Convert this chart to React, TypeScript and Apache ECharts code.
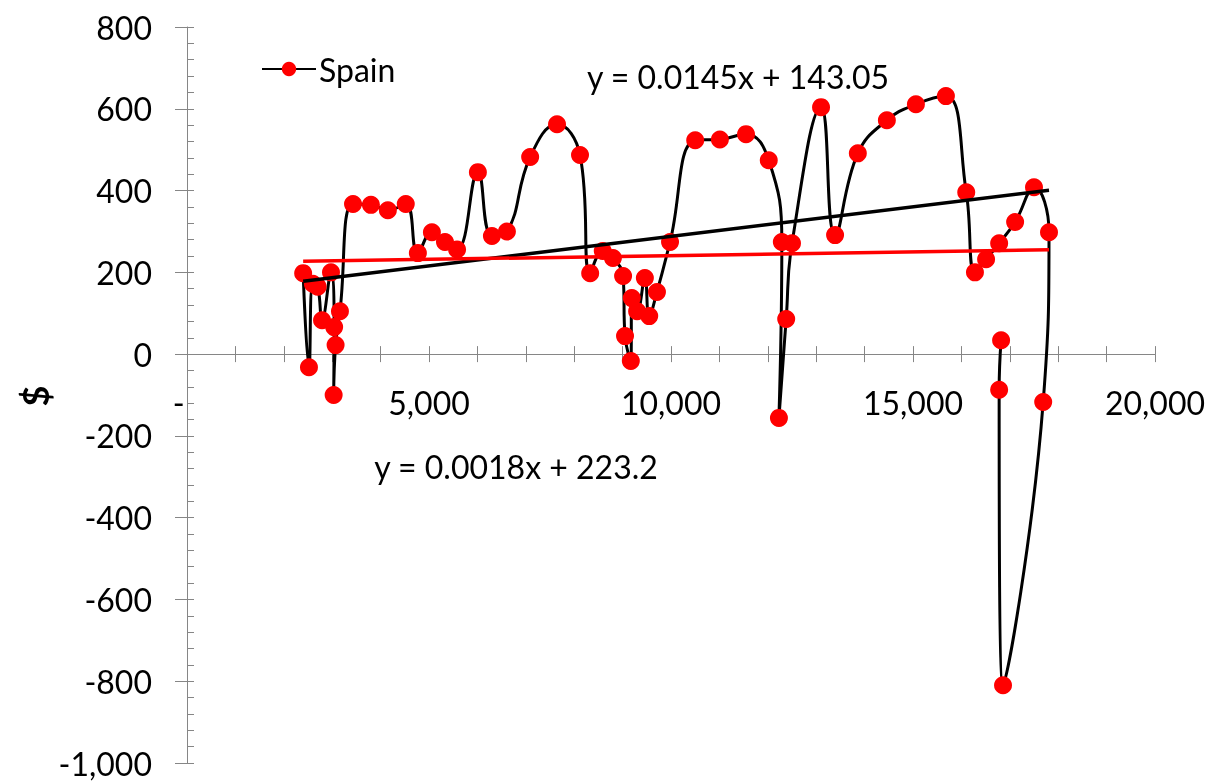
import React, { useEffect, useRef } from "react";
import * as echarts from "echarts";

// Spain series (x, y) in drawing order
const spainX = [2400, 2520, 2600, 2700, 2790, 2975, 3040, 3030, 3070, 3160, 3430, 3800, 4150, 4520, 4770, 5060, 5330, 5580, 6010, 6300, 6610, 7090, 7645, 8120, 8330, 8590, 8800, 9010, 9050, 9170, 9190, 9300, 9460, 9550, 9710, 9980, 10500, 11010, 11550, 12020, 12290, 12230, 12380, 12500, 13100, 13390, 13860, 14460, 15060, 15680, 16100, 16280, 16510, 16780, 17110, 17500, 17810, 17690, 16860, 16780, 16820];
const spainY = [198, -32, 172, 165, 83, 200, 66, -100, 22, 105, 367, 365, 352, 367, 247, 298, 274, 256, 445, 289, 300, 482, 562, 487, 198, 252, 235, 191, 44, -17, 137, 105, 186, 93, 152, 274, 523, 525, 538, 474, 274, -156, 86, 271, 604, 291, 491, 572, 611, 631, 396, 200, 232, 271, 323, 408, 298, -117, -810, -87, 34];

// Trendline end points (as drawn)
const blackTrendX = [2400, 17810];
const blackTrendY = [178, 401];
const redTrendX = [2400, 17810];
const redTrendY = [227, 255];

const blackTrendLabel = "y = 0.0145x + 143.05";
const redTrendLabel = "y = 0.0018x + 223.2";
const seriesName = "Spain";
const yAxisTitle = "$";

const FONT = "Lato";
const AXIS_GRAY = "#868686";

const Y_MIN = -1000;
const Y_MAX = 800;
const GRID_TOP = 27;
const GRID_BOTTOM = 18;
const CHART_H = 781;

function fmtNum(v: number): string {
  return Math.round(v).toLocaleString("en-US");
}

export default function App() {
  const ref = useRef<HTMLDivElement>(null);
  useEffect(() => {
    if (!ref.current) return;
    const chart = echarts.init(ref.current, undefined, { renderer: "svg" });
    const spainData = spainX.map((x, i) => [x, spainY[i]]);
    const blackData = blackTrendX.map((x, i) => [x, blackTrendY[i]]);
    const redData = redTrendX.map((x, i) => [x, redTrendY[i]]);
    // place the x axis at y = 0 by offsetting it up from the grid bottom
    const gridH = CHART_H - GRID_TOP - GRID_BOTTOM;
    const zeroOffset = -(gridH * (0 - Y_MIN)) / (Y_MAX - Y_MIN);
    chart.setOption({
      animation: false,
      textStyle: { fontFamily: FONT },
      grid: { left: 187, right: 57, top: GRID_TOP, bottom: GRID_BOTTOM, containLabel: false, outerBoundsMode: "none" },
      legend: {
        data: [seriesName],
        left: 256,
        top: 48,
        itemWidth: 54,
        itemHeight: 18,
        textStyle: { fontSize: 32, color: "#000", fontFamily: FONT, padding: [0, 0, 0, -2] },
      },
      xAxis: [
        {
          type: "value",
          min: 0,
          max: 20000,
          interval: 1000,
          position: "bottom",
          offset: zeroOffset,
          axisLine: { onZero: false, lineStyle: { color: AXIS_GRAY, width: 1 } },
          axisTick: { length: 8, lineStyle: { color: AXIS_GRAY, width: 1 } },
          axisLabel: {
            fontSize: 32,
            color: "#000",
            fontFamily: FONT,
            margin: 32,
            showMinLabel: true,
            formatter: (v: number) => (v % 5000 === 0 ? (v === 0 ? "-  " : fmtNum(v)) : ""),
          },
          splitLine: { show: false },
        },
        {
          type: "value",
          min: 0,
          max: 20000,
          interval: 1000,
          position: "bottom",
          offset: zeroOffset,
          axisLine: { show: false, onZero: false },
          axisTick: { inside: true, length: 8, lineStyle: { color: AXIS_GRAY, width: 1 } },
          axisLabel: { show: false },
          splitLine: { show: false },
        },
      ],
      yAxis: [
        {
          type: "value",
          min: Y_MIN,
          max: Y_MAX,
          interval: 200,
          axisLine: { onZero: false, lineStyle: { color: AXIS_GRAY, width: 1 } },
          axisTick: { length: 12, lineStyle: { color: AXIS_GRAY, width: 1 } },
          axisLabel: {
            fontSize: 32,
            color: "#000",
            fontFamily: FONT,
            margin: 35,
            formatter: (v: number) => fmtNum(v),
          },
          splitLine: { show: false },
        },
        {
          type: "value",
          min: Y_MIN,
          max: Y_MAX,
          interval: 40,
          position: "left",
          axisLine: { show: false, onZero: false },
          axisTick: { inside: true, length: 7, lineStyle: { color: AXIS_GRAY, width: 1 } },
          axisLabel: { show: false },
          splitLine: { show: false },
        },
      ],
      graphic: [
        {
          type: "text",
          x: 738,
          y: 76,
          style: { text: blackTrendLabel, fontSize: 32, fontFamily: FONT, fill: "#000", align: "center", verticalAlign: "middle" },
        },
        {
          type: "text",
          x: 516,
          y: 466,
          style: { text: redTrendLabel, fontSize: 32, fontFamily: FONT, fill: "#000", align: "center", verticalAlign: "middle" },
        },
        {
          type: "text",
          x: 35,
          y: 396,
          rotation: Math.PI / 2,
          style: { text: yAxisTitle, fontSize: 36, fontWeight: "bold", fontFamily: FONT, fill: "#000", align: "center", verticalAlign: "middle" },
        },
      ],
      series: [
        {
          name: seriesName,
          type: "line",
          data: spainData,
          smooth: 0.45,
          symbol: "circle",
          symbolSize: 18,
          itemStyle: { color: "#FF0000" },
          lineStyle: { color: "#000", width: 3 },
          z: 2,
        },
        {
          name: "trendBlack",
          type: "line",
          data: blackData,
          symbol: "none",
          lineStyle: { color: "#000", width: 3.5 },
          z: 3,
        },
        {
          name: "trendRed",
          type: "line",
          data: redData,
          symbol: "none",
          lineStyle: { color: "#FF0000", width: 3.5 },
          z: 3,
        },
      ],
    });
    return () => chart.dispose();
  }, []);
  return <div ref={ref} style={{ position: "fixed", left: 0, top: 0, width: 1212, height: 781 }} />;
}
